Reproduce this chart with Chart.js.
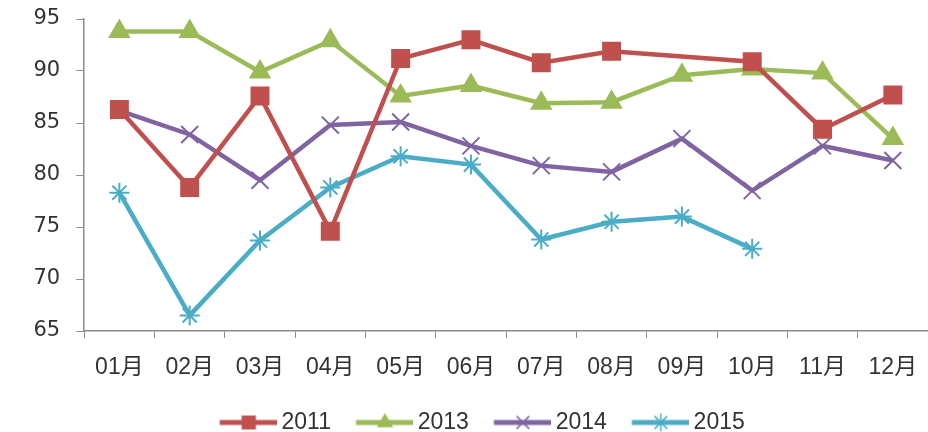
<!DOCTYPE html>
<html>
<head>
<meta charset="utf-8">
<script src="https://cdn.jsdelivr.net/npm/chart.js@4.4.1/dist/chart.umd.min.js"></script>
<style>
  html, body { margin: 0; padding: 0; background: #fff; }
  #wrap { width: 928px; height: 432px; }
</style>
</head>
<body>
<div id="wrap"><canvas id="lineChart"></canvas></div>
<script>
const months = ['01月', '02月', '03月', '04月', '05月', '06月', '07月', '08月', '09月', '10月', '11月', '12月'];
const y2011 = [86.3, 78.8, 87.6, 74.6, 91.2, 93.0, 90.8, 91.9, null, 90.9, 84.4, 87.7];
const y2013 = [93.8, 93.8, 89.9, 92.9, 87.6, 88.6, 86.9, 87.0, 89.6, 90.2, 89.8, 83.5];
const y2014 = [86.2, 83.9, 79.5, 84.8, 85.1, 82.8, 80.9, 80.3, 83.5, 78.5, 82.8, 81.4];
const y2015 = [78.3, 66.5, 73.7, 78.8, 81.8, 81.0, 73.8, 75.5, 76.0, 72.9, null, null];
const yTicks = [65, 70, 75, 80, 85, 90, 95];

const axisColor = '#8c8c8c';
const textColor = '#333333';

const series = [
    { label: '2011', data: y2011, color: '#C0504D', style: 'rect', radius: 12, iconRadius: 9 },
    { label: '2013', data: y2013, color: '#9BBB59', style: 'triangle', radius: 11, iconRadius: 8 },
    { label: '2014', data: y2014, color: '#8064A2', style: 'crossRot', radius: 12, iconRadius: 9 },
    { label: '2015', data: y2015, color: '#4BACC6', style: 'star', radius: 10, iconRadius: 9 },
];

// legend icon: thick line with the marker in the middle, some blank room on the left
const iconBox = 62.5;
function makeIcon(s) {
    const w = iconBox + 15;
    const c = document.createElement('canvas');
    c.width = w;
    c.height = 24;
    const ctx = c.getContext('2d');
    ctx.strokeStyle = s.color;
    ctx.fillStyle = s.color;
    ctx.lineWidth = 5;
    ctx.beginPath();
    ctx.moveTo(w - 58, 12);
    ctx.lineTo(w, 12);
    ctx.stroke();
    ctx.lineWidth = 1.5;
    Chart.helpers.drawPoint(ctx, { pointStyle: s.style, rotation: 0, radius: s.iconRadius, borderWidth: 1.5 }, w - 29, 12);
    return c;
}

new Chart(document.getElementById('lineChart'), {
    type: 'line',
    data: {
        labels: months,
        datasets: series.map((s) => ({
            label: s.label,
            data: s.data,
            borderColor: s.color,
            backgroundColor: s.color,
            borderWidth: 4.5,
            pointStyle: s.style,
            pointRadius: s.radius,
            pointHoverRadius: s.radius,
            pointBorderWidth: 2,
            pointBorderColor: s.color,
            pointBackgroundColor: s.color,
            spanGaps: true,
            tension: 0,
        })),
    },
    options: {
        responsive: true,
        maintainAspectRatio: false,
        animation: false,
        layout: {
            autoPadding: false,
            padding: { top: 19, right: -2, left: 35, bottom: -12 },
        },
        plugins: {
            legend: {
                position: 'bottom',
                labels: {
                    usePointStyle: true,
                    pointStyleWidth: iconBox,
                    padding: 0,
                    color: textColor,
                    font: { family: 'Liberation Sans, sans-serif', size: 23 },
                    generateLabels: () =>
                        series.map((s, i) => ({
                            text: s.label + '  ',
                            fillStyle: s.color,
                            strokeStyle: s.color,
                            pointStyle: makeIcon(s),
                            lineWidth: 0,
                            hidden: false,
                            datasetIndex: i,
                            fontColor: textColor,
                        })),
                },
            },
            tooltip: { enabled: false },
        },
        scales: {
            x: {
                offset: true,
                afterFit: (axis) => {
                    axis.height += 13.4;
                    axis.paddingLeft = 0;
                    axis.paddingRight = 0;
                },
                border: { color: axisColor, width: 1.5 },
                grid: {
                    display: true,
                    drawOnChartArea: false,
                    drawTicks: true,
                    tickLength: 7,
                    color: axisColor,
                    offset: true,
                },
                ticks: {
                    color: textColor,
                    padding: 16,
                    maxRotation: 0,
                    font: { family: 'Liberation Sans, Noto Sans CJK SC, sans-serif', size: 23 },
                },
            },
            y: {
                min: 65,
                max: 95,
                afterBuildTicks: (axis) => {
                    axis.ticks = yTicks.map((v) => ({ value: v }));
                },
                afterFit: (axis) => {
                    axis.width -= 17.5;
                    axis.paddingTop = 0;
                    axis.paddingBottom = 0;
                },
                border: { color: axisColor, width: 1.5 },
                grid: {
                    display: true,
                    drawOnChartArea: false,
                    drawTicks: true,
                    tickLength: 8,
                    color: axisColor,
                },
                ticks: {
                    color: textColor,
                    padding: 16,
                    font: { family: 'DejaVu Sans, sans-serif', size: 21 },
                },
            },
        },
    },
});
</script>
</body>
</html>
